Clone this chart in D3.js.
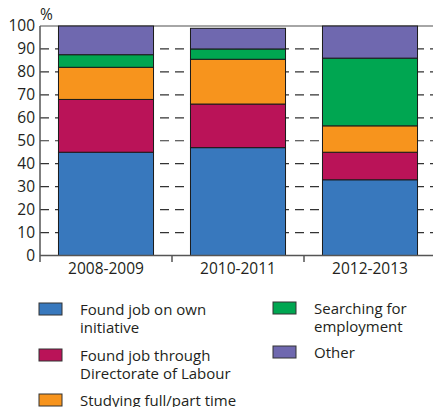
<!DOCTYPE html>
<html><head><meta charset="utf-8">
<script src="https://cdn.jsdelivr.net/npm/d3@7"></script>
<style>body{margin:0;background:#fff}svg{display:block}text{font-family:"Open Sans",sans-serif;fill:#231f20}</style>
</head><body>
<svg id="c" width="433" height="407"></svg>
<script>
const categories = ["2008-2009", "2010-2011", "2012-2013"];
const seriesNames = ["Found job on own initiative", "Found job through Directorate of Labour", "Studying full/part time", "Searching for employment", "Other"];
const ownInitiative = [45, 47, 33];
const directorate = [23, 19, 12];
const studying = [14, 19.5, 11.5];
const searching = [5.5, 4.5, 29.5];
const other = [12.5, 9, 14];
const yTicks = [0, 10, 20, 30, 40, 50, 60, 70, 80, 90, 100];
const colors = ["#3878bd", "#ba1358", "#f7941d", "#00a651", "#6f68af"];
const legendLines = [["Found job on own", "initiative"], ["Found job through", "Directorate of Labour"], ["Studying full/part time"], ["Searching for", "employment"], ["Other"]];

const svg = d3.select("#c");
const x = d3.scaleBand().domain(categories).range([40, 436]).paddingInner(0.28).paddingOuter(0.14);
const y = d3.scaleLinear().domain([0, 100]).range([255.5, 26]);

// gridlines
svg.append("g").selectAll("line").data(yTicks.filter(d => d > 0 && d < 100)).join("line")
  .attr("x1", 40).attr("x2", 433).attr("y1", d => y(d)).attr("y2", d => y(d))
  .attr("stroke", "#333").attr("stroke-width", 1.2).attr("stroke-dasharray", "9,6");
// top line
svg.append("line").attr("x1", 40).attr("x2", 433).attr("y1", y(100)).attr("y2", y(100)).attr("stroke", "#888").attr("stroke-width", 1.5);

const rows = categories.map((c, i) => ({cat: c, v: [ownInitiative[i], directorate[i], studying[i], searching[i], other[i]]}));
const stack = d3.stack().keys([0, 1, 2, 3, 4]).value((d, k) => d.v[k]);
const stacked = stack(rows);
svg.append("g").selectAll("g").data(stacked).join("g").attr("fill", (d, i) => colors[i])
  .selectAll("rect").data(d => d).join("rect")
  .attr("x", d => x(d.data.cat)).attr("width", x.bandwidth())
  .attr("y", d => y(d[1])).attr("height", d => y(d[0]) - y(d[1]))
  .attr("stroke", "#1a1a1a").attr("stroke-width", 1);

// y axis
const ya = svg.append("g").attr("transform", "translate(40,0)")
  .call(d3.axisLeft(y).tickValues(yTicks).tickSize(0).tickPadding(5));
ya.select(".domain").remove();
ya.selectAll("text").style("font-size", "15.5px").attr("fill", "#231f20");
svg.append("line").attr("x1", 40).attr("x2", 40).attr("y1", y(100)).attr("y2", 262).attr("stroke", "#555").attr("stroke-width", 1.5);
svg.append("line").attr("x1", 40).attr("x2", 433).attr("y1", y(0)).attr("y2", y(0)).attr("stroke", "#555").attr("stroke-width", 1.5);
// category boundary ticks
const step = x.step();
svg.append("g").selectAll("line").data(categories.slice(1)).join("line")
  .attr("x1", d => x(d) - step * x.paddingInner() / 2).attr("x2", d => x(d) - step * x.paddingInner() / 2)
  .attr("y1", y(0)).attr("y2", 262).attr("stroke", "#555").attr("stroke-width", 1.5);
// x labels
const xa = svg.append("g").attr("transform", `translate(0,${y(0)})`)
  .call(d3.axisBottom(x).tickSize(0).tickPadding(7));
xa.select(".domain").remove();
xa.selectAll("text").style("font-size", "15.5px").attr("fill", "#231f20");

svg.append("text").attr("x", 40).attr("y", 20).style("font-size", "15.5px").text("%");

// legend
const legPos = [[39, 315], [39, 361], [39, 406], [273, 314], [273, 358]];
const lg = svg.append("g").selectAll("g").data(seriesNames).join("g")
  .attr("transform", (d, i) => `translate(${legPos[i][0]},${legPos[i][1]})`);
lg.append("rect").attr("x", 0).attr("y", -12).attr("width", 23).attr("height", 12)
  .attr("fill", (d, i) => colors[i]).attr("stroke", "#333").attr("stroke-width", 1);
lg.selectAll("text").data((d, i) => legendLines[i]).join("text")
  .attr("x", 41).attr("y", (d, j) => j * 18).style("font-size", "15px").text(d => d);
</script>
</body></html>
